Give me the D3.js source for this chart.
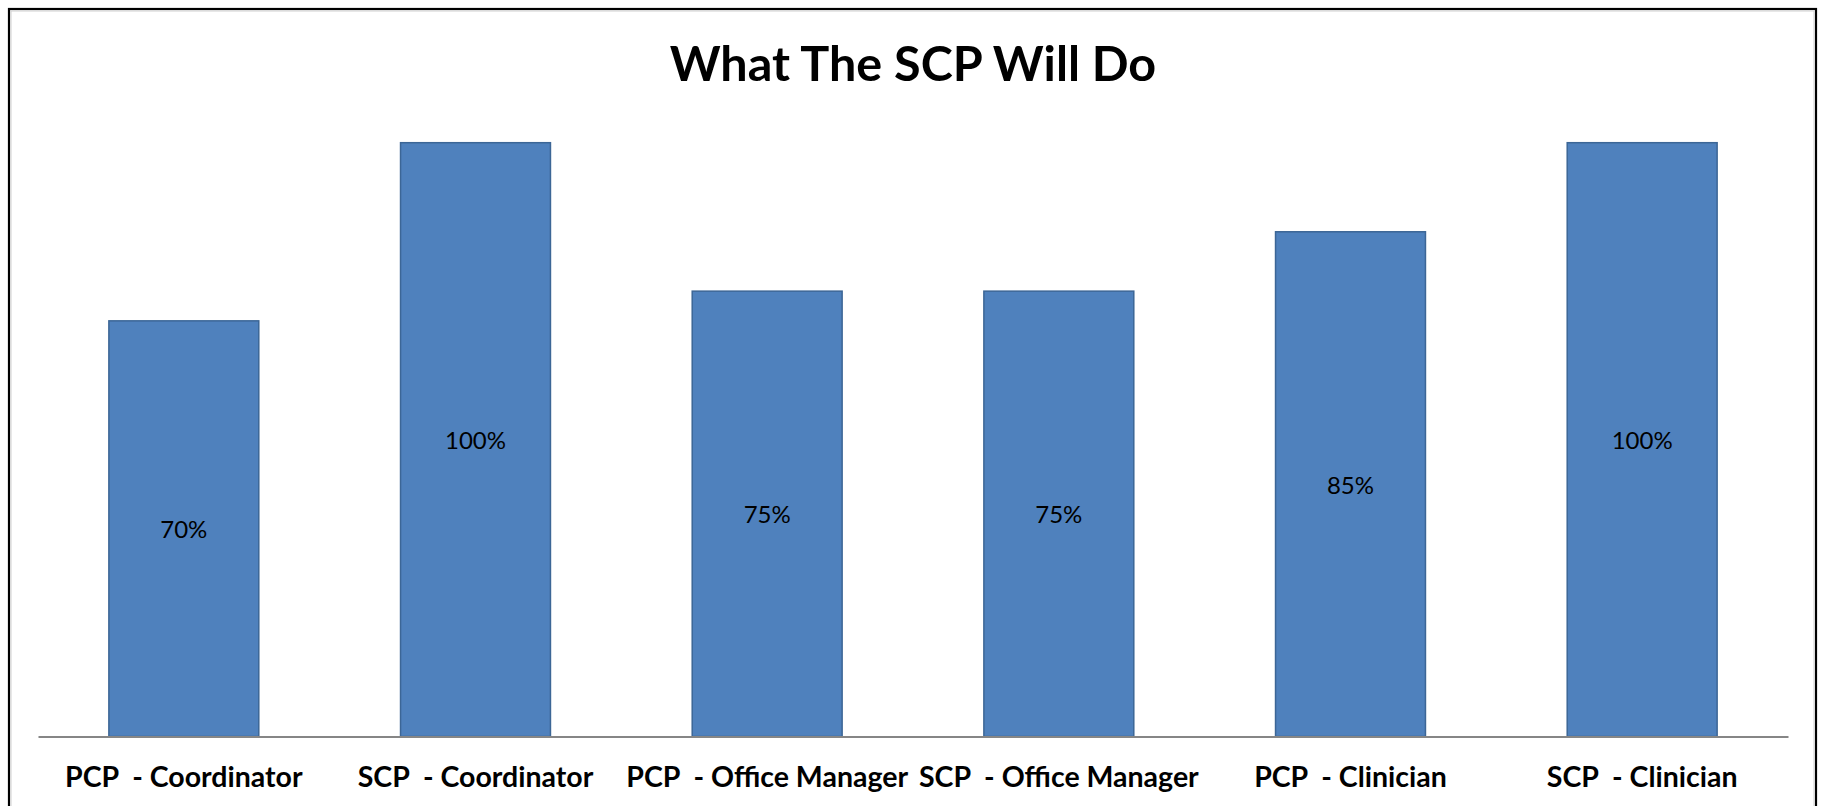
<!DOCTYPE html>
<html>
<head>
<meta charset="utf-8">
<script src="https://cdn.jsdelivr.net/npm/d3@7"></script>
<style>
  html, body { margin: 0; padding: 0; background: #fff; }
  svg { display: block; }
</style>
</head>
<body>
<svg id="chart" width="1824" height="806"></svg>
<script>
const titleText = "What The SCP Will Do";
const categories = ["PCP  - Coordinator", "SCP  - Coordinator", "PCP  - Office Manager", "SCP  - Office Manager", "PCP  - Clinician", "SCP  - Clinician"];
const values = [0.70, 1.00, 0.75, 0.75, 0.85, 1.00];
const valueLabels = ["70%", "100%", "75%", "75%", "85%", "100%"];

const svg = d3.select("#chart");
const W = 1824, H = 806;

svg.append("rect").attr("x", 0).attr("y", 0).attr("width", W).attr("height", H).attr("fill", "#fff");

// outer frame
svg.append("rect").attr("x", 9).attr("y", 9).attr("width", 1807).attr("height", 830)
  .attr("fill", "none").attr("stroke", "#000").attr("stroke-width", 2.2);
svg.append("rect").attr("x", 11).attr("y", 11).attr("width", 1803).attr("height", 830)
  .attr("fill", "none").attr("stroke", "#d0d0d0").attr("stroke-width", 1);

const plot = { left: 38, right: 1788, top: 142.7, bottom: 736.5 };

const x = d3.scaleBand().domain(categories).range([plot.left, plot.right])
  .paddingInner(0.486).paddingOuter(0.243);
const y = d3.scaleLinear().domain([0, 1]).range([plot.bottom, plot.top]);

const data = categories.map((c, i) => ({ c, v: values[i], label: valueLabels[i] }));

svg.append("g").selectAll("rect").data(data).join("rect")
  .attr("x", d => x(d.c))
  .attr("y", d => y(d.v))
  .attr("width", x.bandwidth())
  .attr("height", d => y(0) - y(d.v))
  .attr("fill", "#4F81BD")
  .attr("stroke", "#3C6696")
  .attr("stroke-width", 1.5);

svg.append("g").selectAll("text").data(data).join("text")
  .attr("x", d => x(d.c) + x.bandwidth() / 2)
  .attr("y", d => (y(d.v) + y(0)) / 2)
  .attr("text-anchor", "middle")
  .attr("dominant-baseline", "central")
  .attr("font-family", "Lato, 'Noto Sans', sans-serif")
  .attr("font-size", 24)
  .attr("fill", "#000")
  .text(d => d.label);

// x axis
const xAxis = d3.axisBottom(x).tickSize(0).tickPadding(0);
const gx = svg.append("g").attr("transform", `translate(0,${plot.bottom})`).call(xAxis);
gx.select(".domain").attr("stroke", "#868686").attr("stroke-width", 2);
gx.selectAll(".tick text")
  .attr("y", 50)
  .attr("dy", 0)
  .attr("font-family", "Lato, 'Noto Sans', sans-serif")
  .attr("font-weight", "bold")
  .attr("font-size", 28.5)
  .attr("fill", "#000")
  .style("white-space", "pre")
  .attr("xml:space", "preserve");

svg.append("text")
  .attr("x", 913)
  .attr("y", 81)
  .attr("text-anchor", "middle")
  .attr("font-family", "Lato, 'Noto Sans', sans-serif")
  .attr("font-weight", "bold")
  .attr("font-size", 48.5)
  .attr("fill", "#000")
  .text(titleText);
</script>
</body>
</html>
